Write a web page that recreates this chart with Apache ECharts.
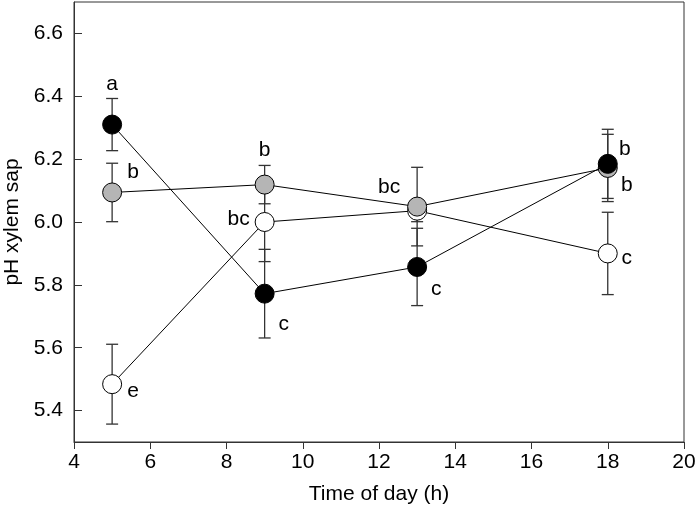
<!DOCTYPE html>
<html>
<head>
<meta charset="utf-8">
<script src="https://cdn.jsdelivr.net/npm/echarts@6/dist/echarts.min.js"></script>
<style>
html,body{margin:0;padding:0;background:#fff;}
#chart{width:697px;height:510px;}
</style>
</head>
<body>
<div id="chart"></div>
<script>
// ---- data ----
const hours = [5, 9, 13, 18];
const blackMean = [6.31, 5.772, 5.857, 6.185];
const blackErr  = [0.083, 0.141, 0.123, 0.11];
const grayMean  = [6.094, 6.119, 6.049, 6.172];
const grayErr   = [0.093, 0.061, 0.125, 0.107];
const whiteMean = [5.484, 6.0, 6.036, 5.9];
const whiteErr  = [0.127, 0.126, 0.035, 0.131];
const blackLetters = ['a', 'c', 'c', 'b'];
const grayLetters  = ['b', 'b', 'bc', 'b'];
const whiteLetters = ['e', 'bc', '', 'c'];

// label offsets (layout only)
const blackOff = [[0,-40],[19,31],[19,22],[17,-15]];
const grayOff  = [[21,-20],[0,-34],[-28,-19],[19,17]];
const whiteOff = [[21,7],[-26,-3],[0,0],[19,5]];

const FONT = '"Liberation Sans", Arial, Helvetica, sans-serif';
const FS = 21;

function pts(means, letters, offs) {
  return hours.map((h, i) => ({
    value: [h, means[i]],
    label: {
      show: letters[i] !== '',
      formatter: letters[i],
      position: 'inside',
      offset: offs[i],
      align: 'center',
      verticalAlign: 'middle',
      color: '#000',
      fontSize: FS,
      fontFamily: FONT
    }
  }));
}
function errs(means, e) {
  return hours.map((h, i) => [h, means[i] - e[i], means[i] + e[i]]);
}
function errSeries(data) {
  return {
    type: 'custom',
    z: 1,
    silent: true,
    data: data,
    renderItem: function (params, api) {
      const x = api.value(0);
      const lo = api.coord([x, api.value(1)]);
      const hi = api.coord([x, api.value(2)]);
      const w = 6;
      const st = { stroke: '#333', lineWidth: 1.3 };
      return {
        type: 'group',
        children: [
          { type: 'line', shape: { x1: lo[0], y1: lo[1], x2: hi[0], y2: hi[1] }, style: st },
          { type: 'line', shape: { x1: lo[0]-w, y1: lo[1], x2: lo[0]+w, y2: lo[1] }, style: st },
          { type: 'line', shape: { x1: hi[0]-w, y1: hi[1], x2: hi[0]+w, y2: hi[1] }, style: st }
        ]
      };
    }
  };
}
function lineSeries(data, fill, z) {
  return {
    type: 'line',
    z: z,
    data: data,
    symbol: 'circle',
    symbolSize: 19,
    showAllSymbol: true,
    animation: false,
    lineStyle: { color: '#000', width: 1 },
    itemStyle: { color: fill, borderColor: '#000', borderWidth: 1 }
  };
}

const chart = echarts.init(document.getElementById('chart'), null, { renderer: 'canvas' });
chart.setOption({
  animation: false,
  backgroundColor: '#fff',
  grid: { left: 74, right: 13, top: 2, bottom: 68, containLabel: false, outerBoundsMode: 'none',
    show: true, borderColor: '#333', borderWidth: 1, backgroundColor: 'transparent' },
  xAxis: {
    type: 'value', min: 4, max: 20, interval: 2,
    name: 'Time of day (h)', nameLocation: 'middle', nameGap: 42,
    nameTextStyle: { color: '#000', fontSize: FS, fontFamily: FONT },
    axisLine: { show: true, lineStyle: { color: '#333', width: 1 } },
    axisTick: { show: true, inside: false, length: 7, lineStyle: { color: '#333' } },
    axisLabel: { color: '#000', fontSize: FS, fontFamily: FONT, margin: 10 },
    splitLine: { show: false }
  },
  yAxis: {
    type: 'value', min: 5.3, max: 6.7, splitNumber: 7,
    name: 'pH xylem sap', nameLocation: 'middle', nameGap: 46,
    nameTextStyle: { color: '#000', fontSize: FS, fontFamily: FONT },
    axisLine: { show: true, lineStyle: { color: '#333', width: 1 } },
    axisTick: { show: true, inside: true, length: 8, lineStyle: { color: '#333' } },
    axisLabel: { color: '#000', fontSize: FS, fontFamily: FONT, margin: 11, showMinLabel: false, showMaxLabel: false,
      formatter: v => v.toFixed(1) },
    splitLine: { show: false }
  },
  series: [
    errSeries(errs(whiteMean, whiteErr)),
    errSeries(errs(grayMean, grayErr)),
    errSeries(errs(blackMean, blackErr)),
    lineSeries(pts(whiteMean, whiteLetters, whiteOff), '#ffffff', 3),
    lineSeries(pts(grayMean, grayLetters, grayOff), '#b5b5b5', 4),
    lineSeries(pts(blackMean, blackLetters, blackOff), '#000000', 5)
  ]
});
</script>
</body>
</html>
